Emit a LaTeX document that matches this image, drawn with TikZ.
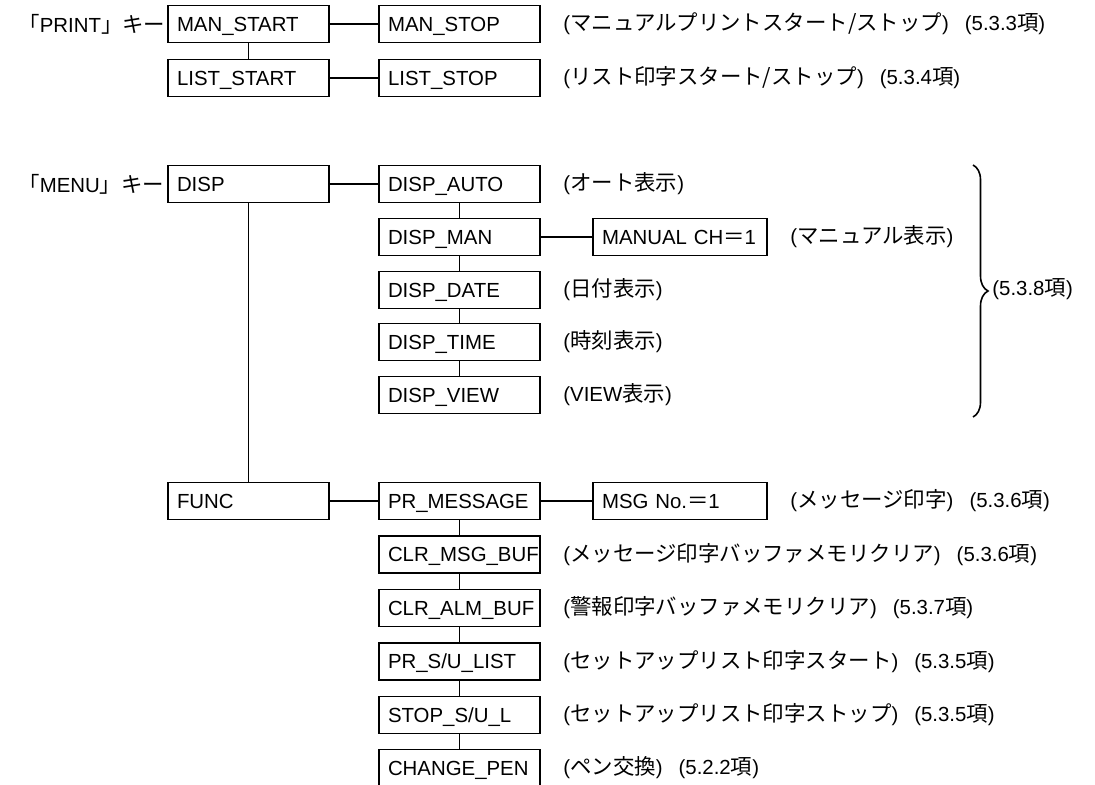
\documentclass[tikz,border=0pt]{standalone}
\usepackage{fontspec}
\setmainfont{Liberation Sans}
\newfontfamily\jpfont[Scale=1.05]{Noto Sans CJK JP}
\newcommand{\jp}[1]{{\jpfont #1}}
\newcommand{\notegap}{\hspace{8pt}}
\usetikzlibrary{decorations.pathreplacing}
\tikzset{keybox/.style={draw, line width=0.8pt, anchor=west, outer sep=0pt, inner xsep=4.5pt,
  inner ysep=0pt, minimum height=18.5pt, text width=71.5pt, text height=7.3pt, text depth=0pt, align=left},
  valbox/.style={keybox, text width=78pt},
  note/.style={anchor=west, inner sep=0pt},
  link/.style={line width=0.8pt}}

\begin{document}
\begin{tikzpicture}[x=0.5pt, y=-0.5pt, font=\fontsize{10.2}{12}\selectfont]
\useasboundingbox (0,0) rectangle (1095,785);
% PRINT key
\node[note] (printkey) at (18,24) {\jp{「}PRINT\jp{」キー}};
\node[keybox] (manstart) at (168,24) {MAN\_START};
\node[keybox] (manstop) at (379,24) {MAN\_STOP};
\node[keybox] (liststart) at (168,78) {LIST\_START};
\node[keybox] (liststop) at (379,78) {LIST\_STOP};
\draw[link] (manstart) -- (manstop);
\draw[link] (liststart) -- (liststop);
\draw[link] (manstart) -- (liststart);
\node[note] (notemanstop) at (563,24) {(\jp{マニュアルプリントスタート/ストップ})\notegap(5.3.3\jp{項})};
\node[note] (noteliststop) at (563,78) {(\jp{リスト印字スタート/ストップ})\notegap(5.3.4\jp{項})};
% MENU key: DISP branch
\node[note] (menukey) at (18,184) {\jp{「}MENU\jp{」キー}};
\node[keybox] (disp) at (168,184) {DISP};
\node[keybox] (dispauto) at (379,184) {DISP\_AUTO};
\node[keybox] (dispman) at (379,237) {DISP\_MAN};
\node[valbox] (manualch) at (593,237) {MANUAL CH\jp{＝}1};
\node[keybox] (dispdate) at (379,290) {DISP\_DATE};
\node[keybox] (disptime) at (379,342) {DISP\_TIME};
\node[keybox] (dispview) at (379,395) {DISP\_VIEW};
\draw[link] (disp) -- (dispauto);
\draw[link] (dispman) -- (manualch);
\draw[link] (dispauto) -- (dispman) -- (dispdate) -- (disptime) -- (dispview);
\node[note] (notedispauto) at (563,184) {(\jp{オート表示})};
\node[note] (notemanualch) at (790,237) {(\jp{マニュアル表示})};
\node[note] (notedispdate) at (563,290) {(\jp{日付表示})};
\node[note] (notedisptime) at (563,342) {(\jp{時刻表示})};
\node[note] (notedispview) at (563,395) {(VIEW\jp{表示})};
% brace over the DISP items
\coordinate (bracetop) at (973,165);
\coordinate (bracebot) at (973,417);
\draw[link, decorate, decoration={brace, amplitude=7.5pt}] (bracetop) -- (bracebot);
\node[note] (notedisp) at (992,289) {(5.3.8\jp{項})};
% FUNC branch
\node[keybox] (func) at (168,501) {FUNC};
\node[keybox] (prmessage) at (379,501) {PR\_MESSAGE};
\node[valbox] (msgno) at (593,501) {MSG No.\jp{＝}1};
\node[keybox] (clrmsg) at (379,554.5) {CLR\_MSG\_BUF};
\node[keybox] (clralm) at (379,608) {CLR\_ALM\_BUF};
\node[keybox] (prsulist) at (379,661.5) {PR\_S/U\_LIST};
\node[keybox] (stopsul) at (379,715) {STOP\_S/U\_L};
\node[keybox] (changepen) at (379,768) {CHANGE\_PEN};
\draw[link] (disp) -- (func);
\draw[link] (func) -- (prmessage);
\draw[link] (prmessage) -- (msgno);
\draw[link] (prmessage) -- (clrmsg) -- (clralm) -- (prsulist) -- (stopsul) -- (changepen);
\node[note] (notemsgno) at (790,501) {(\jp{メッセージ印字})\notegap(5.3.6\jp{項})};
\node[note] (noteclrmsg) at (563,554.5) {(\jp{メッセージ印字バッファメモリクリア})\notegap(5.3.6\jp{項})};
\node[note] (noteclralm) at (563,608) {(\jp{警報印字バッファメモリクリア})\notegap(5.3.7\jp{項})};
\node[note] (noteprsulist) at (563,661.5) {(\jp{セットアップリスト印字スタート})\notegap(5.3.5\jp{項})};
\node[note] (notestopsul) at (563,715) {(\jp{セットアップリスト印字ストップ})\notegap(5.3.5\jp{項})};
\node[note] (notechangepen) at (563,768) {(\jp{ペン交換})\notegap(5.2.2\jp{項})};
\end{tikzpicture}
\end{document}
